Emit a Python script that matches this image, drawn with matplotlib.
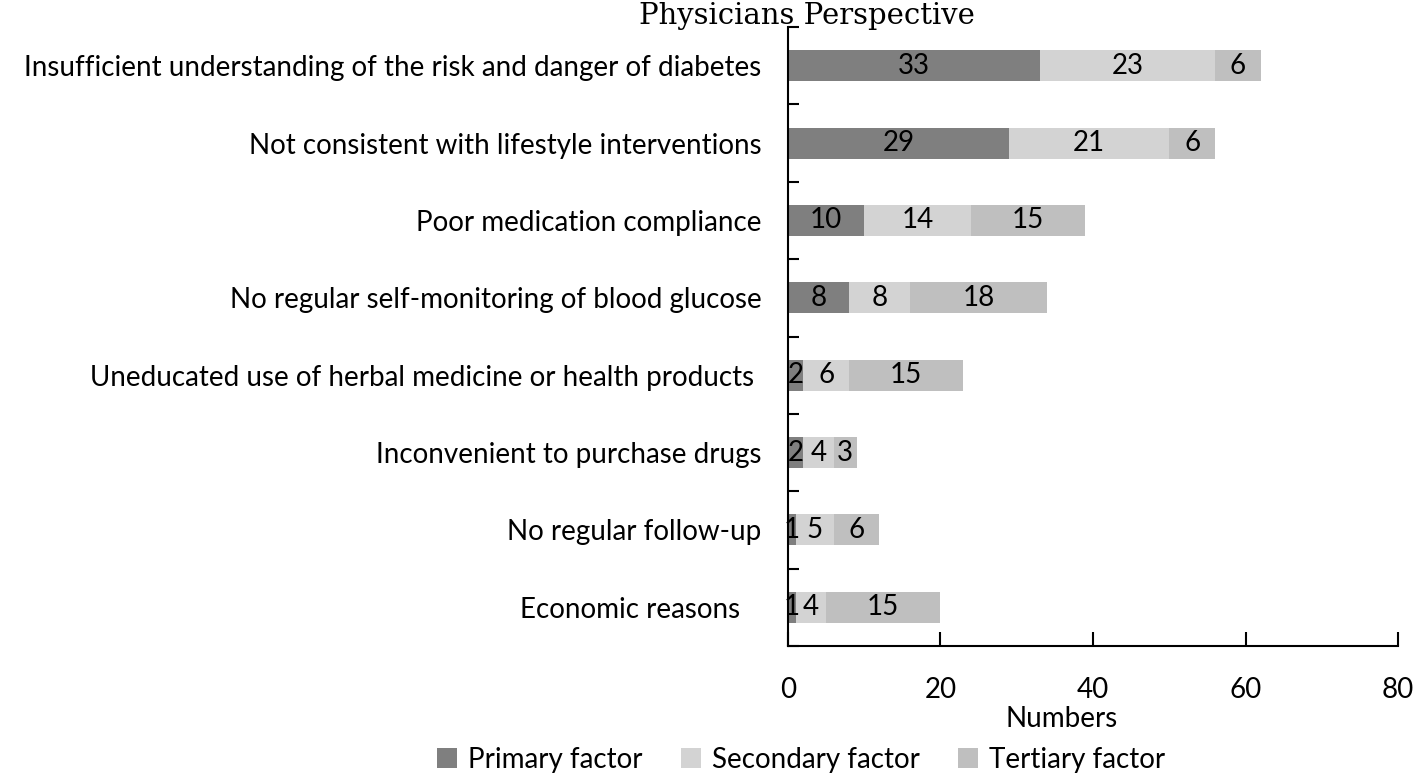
import matplotlib.pyplot as plt
import numpy as np

categories = [
    "Insufficient understanding of the risk and danger of diabetes",
    "Not consistent with lifestyle interventions",
    "Poor medication compliance",
    "No regular self-monitoring of blood glucose",
    "Uneducated use of herbal medicine or health products ",
    "Inconvenient to purchase drugs",
    "No regular follow-up",
    "Economic reasons   ",
]
primary = [33, 29, 10, 8, 2, 2, 1, 1]
secondary = [23, 21, 14, 8, 6, 4, 5, 4]
tertiary = [6, 6, 15, 18, 15, 3, 6, 15]

series = [("Primary factor", primary, "#7f7f7f"),
          ("Secondary factor", secondary, "#d3d3d3"),
          ("Tertiary factor", tertiary, "#bfbfbf")]

plt.rcParams["font.family"] = ["Lato", "DejaVu Sans"]
fs = 20

fig = plt.figure(figsize=(14.18, 7.76), dpi=100)
ax = fig.add_axes([0.5557, 0.1675, 0.4302, 0.7977])

y = np.arange(len(categories))
left = np.zeros(len(categories))
for name, vals, color in series:
    bars = ax.barh(y, vals, left=left, height=0.4, color=color, label=name)
    for b, v in zip(bars, vals):
        ax.text(b.get_x() + b.get_width() / 2, b.get_y() + b.get_height() / 2,
                str(v), ha="center", va="center", fontsize=fs, color="black")
    left += np.array(vals)

ax.set_ylim(len(categories) - 0.5, -0.5)
ax.set_xlim(0, 80)
ax.set_xticks([0, 20, 40, 60, 80])
ax.set_yticks(y)
ax.set_yticklabels(categories, fontsize=fs)
ax.set_yticks(np.arange(-0.5, len(categories), 1), minor=True)
ax.tick_params(axis="y", which="major", length=0, pad=19)
ax.tick_params(axis="y", which="minor", direction="in", length=8, width=1.5)
ax.tick_params(axis="x", direction="in", length=10, width=1.5, labelsize=fs, pad=22)
for s in ["top", "right"]:
    ax.spines[s].set_visible(False)
for s in ["left", "bottom"]:
    ax.spines[s].set_linewidth(1.5)

ax.set_xlabel("Numbers", fontsize=fs)
ax.xaxis.set_label_coords(0.449, -0.097)
fig.text(0.569, 0.969, "Physicians Perspective", ha="center", va="baseline",
         fontsize=21, family="DejaVu Serif")
fig.legend(loc="lower center", bbox_to_anchor=(0.565, -0.028), ncol=3, frameon=False,
           fontsize=fs, handlelength=0.7, handleheight=0.7, columnspacing=1.4,
           handletextpad=0.4)

fig.savefig("out.png", dpi=100)
